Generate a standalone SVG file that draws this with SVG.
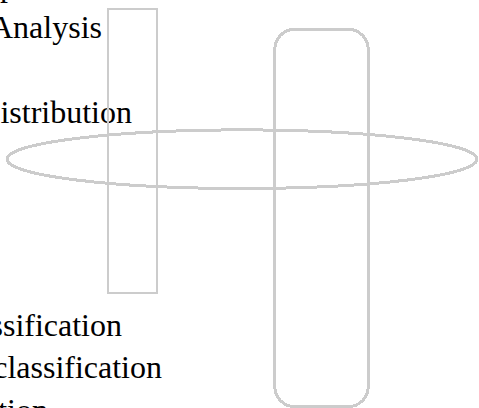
<svg xmlns="http://www.w3.org/2000/svg" width="479" height="408" viewBox="0 0 479 408">
  <style>
    .lbl { font-family: "Liberation Serif", "Times New Roman", serif; font-size: 32px; fill: #000; }
    .shape { fill: none; stroke: #cccccc; shape-rendering: crispEdges; }
  </style>
  <rect width="479" height="408" fill="#ffffff"/>
  <g id="labels">
    <text class="lbl" x="0" y="-4.5">p</text>
    <text class="lbl" x="102" y="38" text-anchor="end">Analysis</text>
    <text class="lbl" x="132" y="123" text-anchor="end">istribution</text>
    <text class="lbl" x="122" y="335.5" text-anchor="end">ssification</text>
    <text class="lbl" x="162" y="378" text-anchor="end">classification</text>
    <text class="lbl" x="48" y="420.5" text-anchor="end">tion</text>
  </g>
  <g id="connectors"/>
  <g id="node-ellipse">
    <ellipse class="shape" cx="242" cy="159.2" rx="235" ry="29.3" stroke-width="3"/>
  </g>
  <g id="node-rect">
    <rect class="shape" x="108" y="9" width="49" height="284" stroke-width="2"/>
  </g>
  <g id="node-pill">
    <rect class="shape" x="274.8" y="29.3" width="93.4" height="377.4" rx="20" ry="20" stroke-width="3"/>
  </g>
</svg>
